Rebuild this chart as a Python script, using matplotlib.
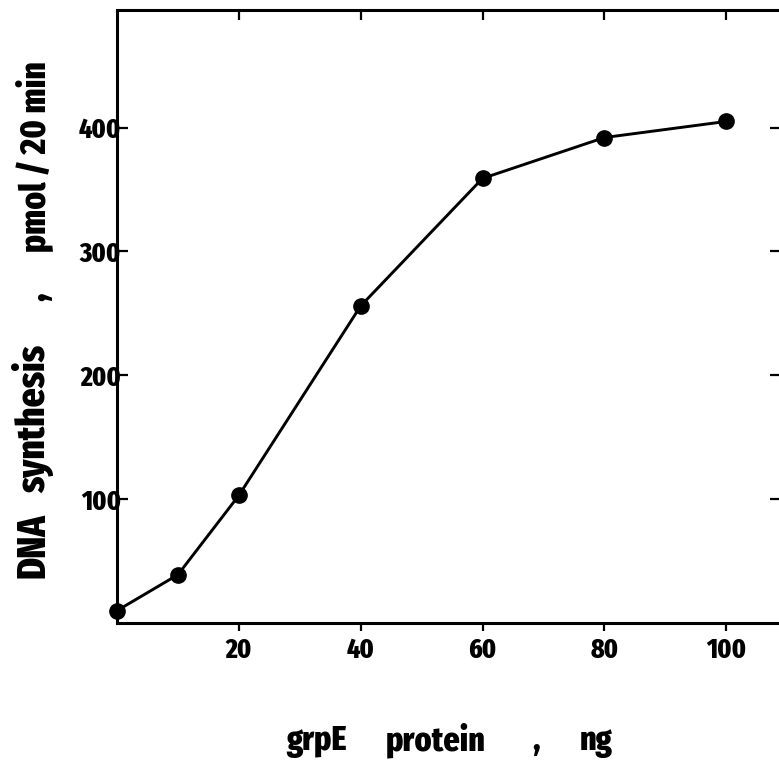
import matplotlib
matplotlib.use("Agg")
import matplotlib.pyplot as plt

# grpE protein (ng) vs DNA synthesis (pmol / 20 min)
grpe_ng = [0, 10, 20, 40, 60, 80, 100]
dna_pmol = [10, 39, 103, 256, 359, 392, 405]
x_ticks = [20, 40, 60, 80, 100]
y_ticks = [100, 200, 300, 400]

# axis titles are set word by word, spread out like the original
x_words = ["grpE", "protein", ",", "ng"]
x_word_px = [316, 436, 536, 596]
y_words = ["DNA", "synthesis", ",", "pmol / 20 min"]
y_word_px = [546, 419, 297, 157]
y_word_size = [29, 29, 29, 26]

plt.rcParams['font.family'] = ['Fira Sans Extra Condensed', 'Fira Sans Condensed', 'DejaVu Sans']
plt.rcParams['font.weight'] = 'heavy'

W, H = 779, 765
fig = plt.figure(figsize=(W / 100, H / 100), dpi=100)
ax = fig.add_axes([117 / W, 1 - 623 / H, (781 - 117) / W, (623 - 10) / H])

ax.plot(grpe_ng, dna_pmol, color='black', linewidth=2.1, marker='o',
        markersize=11, clip_on=False, zorder=3)

ax.set_xlim(0, 109)
ax.set_ylim(0, 495)

for sp in ax.spines.values():
    sp.set_linewidth(2.2)

ax.set_xticks(x_ticks)
ax.set_yticks(y_ticks)
ax.tick_params(axis='x', which='both', direction='out', length=6, width=1.6,
               top=False, labelsize=20, pad=4)
ax.tick_params(axis='y', which='both', direction='in', length=8, width=1.6,
               right=True, labelsize=20, pad=-3)

# inward ticks on the top spine
sec = ax.secondary_xaxis('top')
sec.set_xticks(x_ticks)
sec.tick_params(direction='in', length=7, width=1.6, labeltop=False)
sec.spines['top'].set_visible(False)

for lbl in ax.get_xticklabels() + ax.get_yticklabels():
    lbl.set_fontweight('heavy')

for word, px in zip(x_words, x_word_px):
    fig.text(px / W, 1 - 750 / H, word, ha='center', va='baseline',
             fontsize=25, fontweight='heavy')
for word, py, fs in zip(y_words, y_word_px, y_word_size):
    fig.text(45 / W, 1 - py / H, word, ha='center', va='baseline', rotation=90,
             rotation_mode='anchor', fontsize=fs, fontweight='heavy')

fig.savefig("out.png", dpi=100)
